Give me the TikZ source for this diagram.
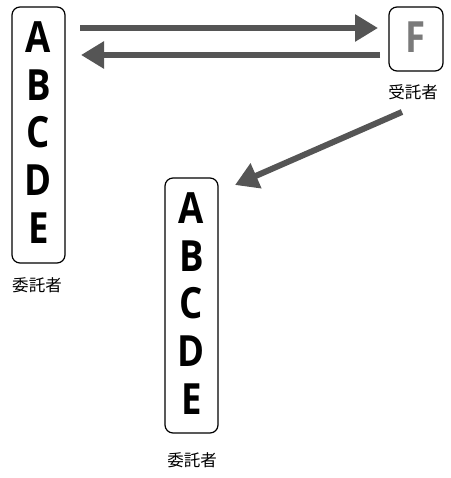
\documentclass[tikz,border=0pt]{standalone}
\usepackage{fontspec}
\setmainfont{Open Sans}
\newfontfamily\letterfont{Open Sans}[FakeStretch=0.85]
\newfontfamily\jpfont{Noto Sans CJK JP}
\usetikzlibrary{arrows.meta}
\definecolor{arrowgray}{HTML}{555555}
\definecolor{fgray}{HTML}{7A7A7A}
\tikzset{
  boxnode/.style={draw=black, line width=1.2pt, rounded corners=8pt, inner sep=0pt},
  letter/.style={font=\letterfont\fontsize{43}{43}\bfseries\selectfont, inner sep=0pt, anchor=center},
  jplabel/.style={font=\jpfont\fontsize{16.5}{16.5}\selectfont, inner sep=0pt},
  bigarrow/.style={draw=arrowgray, line width=6pt, -{Triangle[length=23pt,width=26pt]}, fill=arrowgray}
}
\begin{document}
\begin{tikzpicture}[x=1pt,y=-1pt]
\useasboundingbox (0,0) rectangle (450,478);
% left box
\node[boxnode, minimum width=53pt, minimum height=256pt] (L) at (38.5,135) {};
\foreach \l [count=\i from 0] in {A,B,C,D,E}
  \node[letter] (L\l) at (38.5,{37+47.75*\i}) {\l};
\node[jplabel] (Llab) at (37,285) {委託者};
% F box
\node[boxnode, minimum width=54pt, minimum height=64pt] (F) at (416,39) {};
\node[letter, text=fgray] (Fl) at (415.5,37.5) {F};
\node[jplabel] (Flab) at (413,92) {受託者};
% bottom box
\node[boxnode, minimum width=53pt, minimum height=255pt] (B) at (191.5,305.5) {};
\foreach \l [count=\i from 0] in {A,B,C,D,E}
  \node[letter] (B\l) at (191.5,{208+47.75*\i}) {\l};
\node[jplabel] (Blab) at (192,460) {委託者};
% arrows
\coordinate (a1s) at (80,28);
\coordinate (a1e) at (378,28);
\coordinate (a2s) at (380,55);
\coordinate (a2e) at (81,55);
\coordinate (a3s) at (402,112);
\coordinate (a3e) at (235,185);
\draw[bigarrow] (a1s) -- (a1e);
\draw[bigarrow] (a2s) -- (a2e);
\draw[bigarrow] (a3s) -- (a3e);
\end{tikzpicture}
\end{document}
